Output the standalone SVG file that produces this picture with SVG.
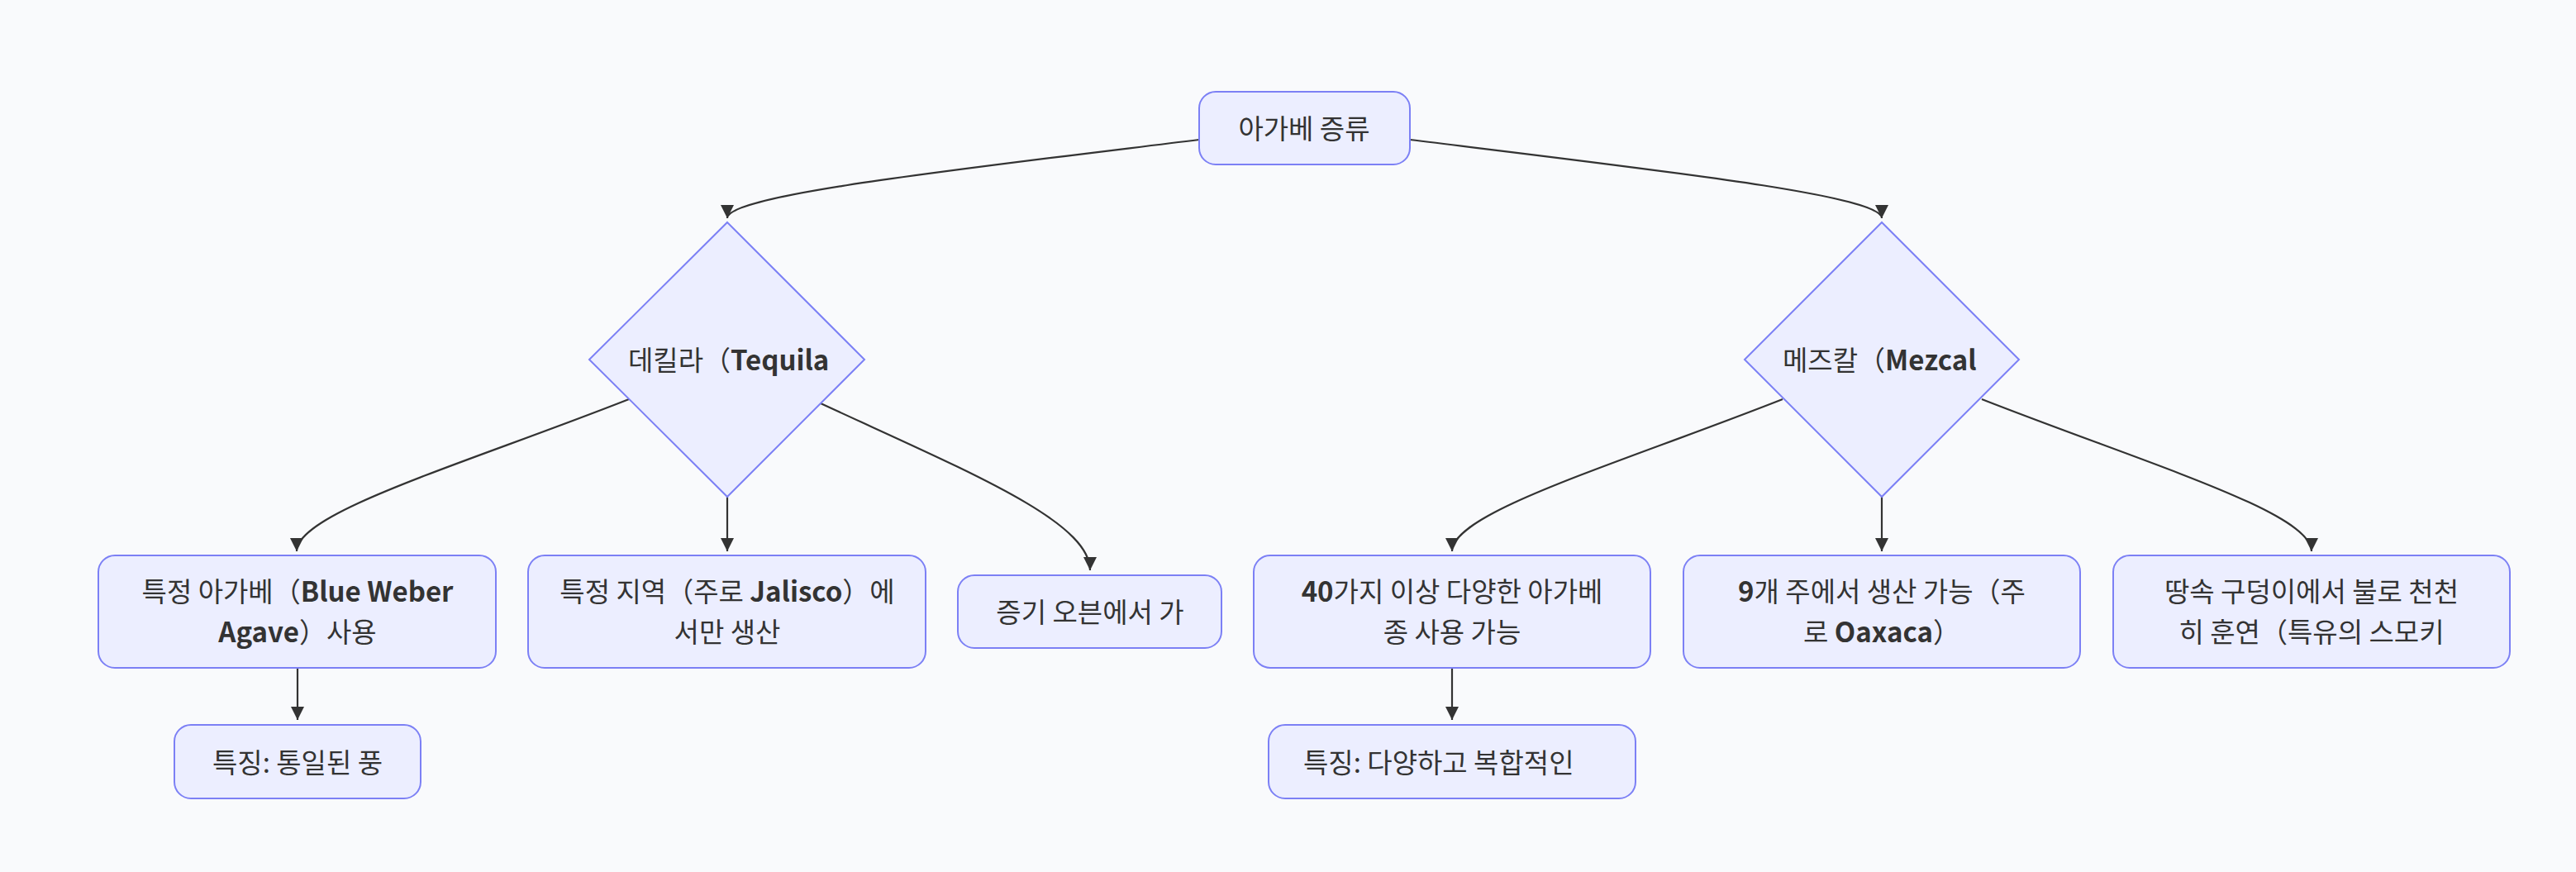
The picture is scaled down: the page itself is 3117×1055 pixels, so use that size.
<svg xmlns="http://www.w3.org/2000/svg" width="3117" height="1055" viewBox="0 0 3117 1055">
<style>
.node rect, .node polygon { fill: #ECEEFF; stroke: #7C80F5; stroke-width: 2; }
.node text { font-family: "Noto Sans CJK KR", "Noto Sans", sans-serif; font-size: 33px; fill: #333333; text-anchor: middle; }
.node text.l { text-anchor: start; }
.b { font-weight: 700; }
.edges path { fill: none; stroke: #333333; stroke-width: 2.2; marker-end: url(#arrow); }
</style>
<defs>
<marker id="arrow" viewBox="0 0 10 10" refX="10" refY="5" markerUnits="userSpaceOnUse" markerWidth="16" markerHeight="16" orient="auto">
<path d="M0,0 L10,5 L0,10 z" fill="#333333"/>
</marker>
</defs>
<rect x="0" y="0" width="3117" height="1055" fill="#F9FAFC"/>
<g class="edges">
<path d="M1451,169 C1150,206 880,236 880,264"/>
<path d="M1706,169 C2007,206 2277,236 2277,264"/>
<path d="M761,483 C560,562 359,620 359,667"/>
<path d="M880,601 L880,667"/>
<path d="M993,488 C1170,570 1319,630 1319,690"/>
<path d="M2157,483 C1956,562 1757,620 1757,667"/>
<path d="M2277,601 L2277,667"/>
<path d="M2398,483 C2600,562 2797,620 2797,667"/>
<path d="M360,808 L360,871"/>
<path d="M1757,808 L1757,871"/>
</g>
<g id="root" class="node">
<rect x="1451" y="111" width="255" height="88" rx="20"/>
<text x="1578" y="168">아가베 증류</text>
</g>
<g id="tequila" class="node">
<polygon points="880,269 1046,435 880,601 713,435"/>
<text class="l" x="760" y="448">데킬라（<tspan class="b">Tequila</tspan></text>
</g>
<g id="mezcal" class="node">
<polygon points="2277,269 2443,435 2277,601 2111,435"/>
<text class="l" x="2157" y="448">메즈칼（<tspan class="b">Mezcal</tspan></text>
</g>
<g id="t1" class="node">
<rect x="119" y="672" width="481" height="136" rx="20"/>
<text x="360" y="728">특정 아가베（<tspan class="b">Blue Weber</tspan></text>
<text x="360" y="777"><tspan class="b">Agave</tspan>）사용</text>
</g>
<g id="t2" class="node">
<rect x="639" y="672" width="481" height="136" rx="20"/>
<text x="880" y="728">특정 지역（주로 <tspan class="b">Jalisco</tspan>）에</text>
<text x="880" y="777">서만 생산</text>
</g>
<g id="t3" class="node">
<rect x="1159" y="696" width="319" height="88" rx="20"/>
<text x="1319" y="753">증기 오븐에서 가</text>
</g>
<g id="m1" class="node">
<rect x="1517" y="672" width="480" height="136" rx="20"/>
<text x="1757" y="728"><tspan class="b">40</tspan>가지 이상 다양한 아가베</text>
<text x="1757" y="777">종 사용 가능</text>
</g>
<g id="m2" class="node">
<rect x="2037" y="672" width="480" height="136" rx="20"/>
<text x="2277" y="728"><tspan class="b">9</tspan>개 주에서 생산 가능（주</text>
<text x="2277" y="777">로 <tspan class="b">Oaxaca</tspan>）</text>
</g>
<g id="m3" class="node">
<rect x="2557" y="672" width="480" height="136" rx="20"/>
<text x="2797" y="728">땅속 구덩이에서 불로 천천</text>
<text x="2797" y="777">히 훈연（특유의 스모키</text>
</g>
<g id="t1a" class="node">
<rect x="211" y="877" width="298" height="89" rx="20"/>
<text x="360" y="935">특징: 통일된 풍</text>
</g>
<g id="m1a" class="node">
<rect x="1535" y="877" width="444" height="89" rx="20"/>
<text class="l" x="1577" y="935">특징: 다양하고 복합적인</text>
</g>
</svg>
